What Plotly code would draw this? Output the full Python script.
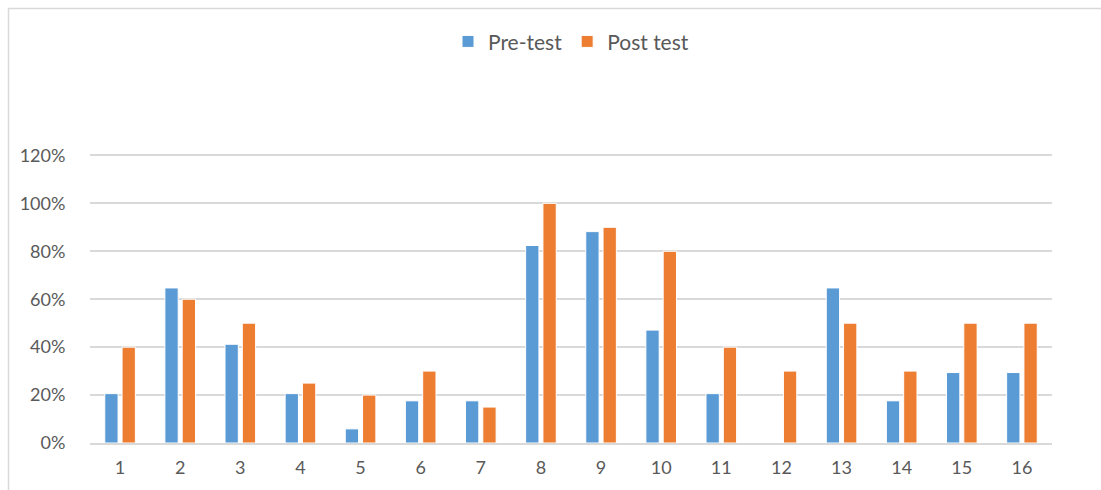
import plotly.graph_objects as go

categories = [str(i) for i in range(1, 17)]
pre_test = [0.206, 0.647, 0.412, 0.206, 0.059, 0.176, 0.176, 0.824,
            0.882, 0.471, 0.206, 0.0, 0.647, 0.176, 0.294, 0.294]
post_test = [0.40, 0.60, 0.50, 0.25, 0.20, 0.30, 0.15, 1.00,
             0.90, 0.80, 0.40, 0.30, 0.50, 0.30, 0.50, 0.50]
y_ticks = [0, 0.2, 0.4, 0.6, 0.8, 1.0, 1.2]

FONT = "Lato, 'Liberation Sans', sans-serif"
TEXT = "#595959"
PLOT_H = 292

fig = go.Figure()
fig.add_trace(go.Bar(x=categories, y=pre_test, name="Pre-test",
                     marker=dict(color="#5B9BD5", line=dict(color="white", width=1))))
fig.add_trace(go.Bar(x=categories, y=post_test, name="Post test",
                     marker=dict(color="#ED7D31", line=dict(color="white", width=1))))

fig.update_layout(
    width=1101, height=490,
    margin=dict(l=90, r=49, t=153, b=45),
    paper_bgcolor="white", plot_bgcolor="white",
    barmode="group", bargap=0.425, bargroupgap=0.23,
    font=dict(family=FONT, color=TEXT, size=18),
    legend=dict(orientation="h", x=0.5, xanchor="center", y=(445 - 41) / PLOT_H,
                yanchor="middle",
                font=dict(size=21, color=TEXT, family=FONT), itemwidth=30,
                traceorder="normal"),
    showlegend=True,
    xaxis=dict(showgrid=False, showline=True, linecolor="#d9d9d9", linewidth=1.5,
               ticks="outside", ticklen=8, tickcolor="rgba(0,0,0,0)",
               tickfont=dict(size=18, color=TEXT, family=FONT)),
    yaxis=dict(range=[0, 1.21], tickvals=y_ticks, tickformat=".0%",
               showgrid=True, gridcolor="#d9d9d9", gridwidth=1.5,
               zeroline=False, showline=False,
               ticks="outside", ticklen=20, tickcolor="rgba(0,0,0,0)",
               tickfont=dict(size=18, color=TEXT, family=FONT)),
    shapes=[dict(type="rect", xref="paper", yref="paper",
                 x0=(8.5 - 90) / 962, x1=1.1, y0=-0.3, y1=(445 - 7.5) / PLOT_H,
                 line=dict(color="#d9d9d9", width=1.5), fillcolor="rgba(0,0,0,0)",
                 layer="below")],
)

fig.write_html("out.html", config={"displayModeBar": False},
               post_script="document.body.style.margin='0';")
